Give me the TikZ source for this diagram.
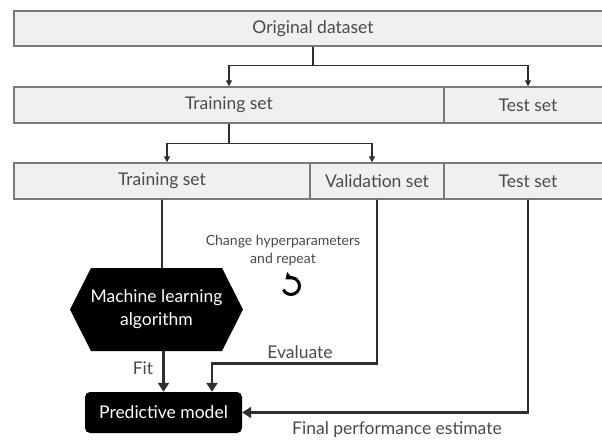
\documentclass[tikz,border=0pt]{standalone}
\usepackage{fontspec}
\setmainfont{Lato}
\usetikzlibrary{arrows.meta}
\definecolor{boxfill}{HTML}{F0F0F0}
\definecolor{boxline}{HTML}{7A7A7A}
\definecolor{txt}{HTML}{4A4A4A}
\definecolor{conn}{HTML}{2E2E2E}
\begin{document}
\begin{tikzpicture}[x=1pt,y=-1pt,
  setbox/.style={draw=boxline, fill=boxfill, line width=1.4pt, minimum height=36pt, inner sep=0pt, text=txt, font=\fontsize{17.5}{20}\selectfont},
  thinconn/.style={draw=conn, line width=1.4pt, -{Triangle[length=6pt,width=6pt]}},
  thickconn/.style={draw=conn, line width=2.6pt, -{Triangle[length=9pt,width=11pt]}},
  plainthick/.style={draw=conn, line width=2.6pt},
  lbl/.style={text=txt, font=\fontsize{17.5}{20}\selectfont, inner sep=0pt},
  smalllbl/.style={text=txt, font=\fontsize{14}{18}\selectfont, inner sep=0pt, align=center},
  darktext/.style={text=white, font=\fontsize{17.5}{23}\selectfont, inner sep=0pt, align=center}
]
\useasboundingbox (0,0) rectangle (602,439);
\fill[white] (0,0) rectangle (602,439);

% rows of boxes
\node[setbox, minimum width=598pt, minimum height=35pt] (orig) at (313,28.5) {Original dataset};
\node[setbox, minimum width=430pt] (train1) at (229,105) {Training set};
\node[setbox, minimum width=168pt] (test1) at (528,105) {Test set};
\node[setbox, minimum width=296pt] (train2) at (162,181) {Training set};
\node[setbox, minimum width=134pt] (val) at (377,181) {Validation set};
\node[setbox, minimum width=168pt] (test2) at (528,181) {Test set};

% first split
\draw[thinconn] (orig.south) -- ++(0,19) -| (train1.north);
\draw[thinconn] (orig.south) -- ++(0,19) -| (test1.north);
% second split
\draw[thinconn] (train1.south) -- ++(0,20) -| ([xshift=5pt]train2.north);
\draw[thinconn] (train1.south) -- ++(0,20) -| ([xshift=-5pt]val.north);

% machine learning algorithm (hexagon)
\fill[black] (70,309.5) -- (91,268) -- (222,268) -- (243,309.5) -- (222,351) -- (91,351) -- cycle;
\node[darktext, minimum width=173pt, minimum height=83pt] (mla) at (156.5,309.5) {Machine learning\\algorithm};

% predictive model
\node[fill=black, rounded corners=5pt, minimum width=157pt, minimum height=41pt, darktext] (pm) at (163.5,412.5) {Predictive model};

% connectors
\draw[plainthick] (train2.south) -- (train2.south |- mla.north);
\draw[thickconn] (mla.south -| pm.north) -- (pm.north);
\draw[thickconn] (val.south) -- ++(0,164) -| ([xshift=48.5pt]pm.north);
\draw[thickconn] (test2.south) |- (pm.east);

% labels
\node[lbl] (fit) at (143,368) {Fit};
\node[lbl] (eval) at (300,352) {Evaluate};
\node[lbl] (fpe) at (397,430) {Final performance estimate};
\node[smalllbl] (chg) at (283,251) {Change hyperparameters\\and repeat};

% repeat icon
\coordinate (icon) at (291,286);
\draw[black, line width=3pt, -{Triangle[length=6pt,width=9pt]}]
  ([shift={(205:8.5pt)}]icon) arc[start angle=-155, end angle=130, radius=8.5pt];
\end{tikzpicture}
\end{document}
